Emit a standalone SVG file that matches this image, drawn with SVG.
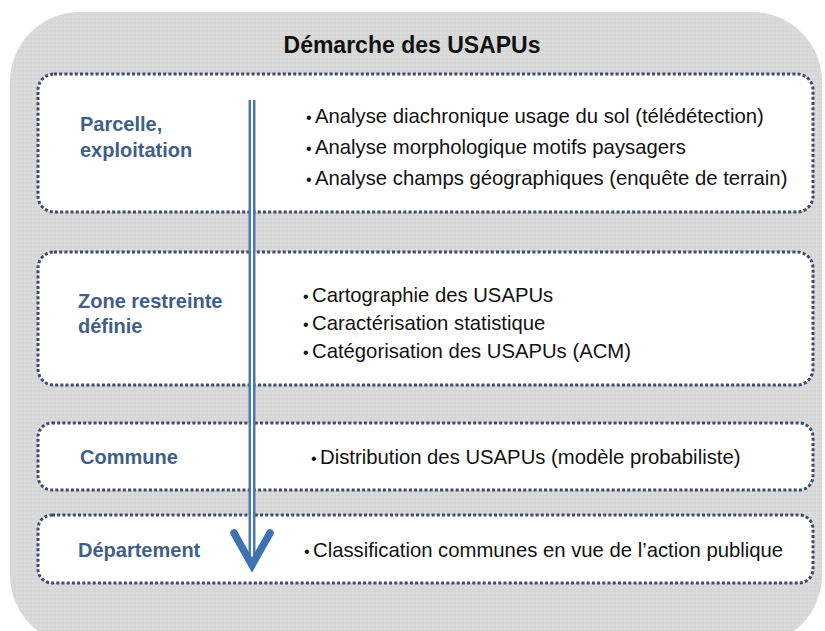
<svg xmlns="http://www.w3.org/2000/svg" width="825" height="631" viewBox="0 0 825 631">
<defs>
<pattern id="dots" width="4" height="4" patternUnits="userSpaceOnUse">
<rect width="4" height="4" fill="#d7d7d7"/>
<circle cx="1" cy="1" r="0.7" fill="#e5e5e5"/>
</pattern>
<style>
.box{fill:#ffffff;stroke:#3d4c6a;stroke-width:3;stroke-dasharray:3 2.2}
.lbl{font-family:"Liberation Sans",Arial,sans-serif;font-weight:bold;font-size:20px;fill:#3f5f8b}
.txt{font-family:"Liberation Sans",Arial,sans-serif;font-size:20.3px;fill:#111111}
.b{font-size:16px}
.title{font-family:"Liberation Sans",Arial,sans-serif;font-weight:bold;font-size:23px;fill:#111111}
</style>
</defs>
<rect width="825" height="631" fill="#ffffff"/>
<rect id="background" x="10" y="12" width="812" height="633" rx="70" ry="70" fill="url(#dots)"/>
<text class="title" x="412" y="53" text-anchor="middle">Démarche des USAPUs</text>
<g id="node-parcelle">
<rect class="box" x="38" y="74" width="775" height="138" rx="16"/>
<text class="lbl" x="80" y="131">Parcelle,</text>
<text class="lbl" x="80" y="157">exploitation</text>
<text class="txt" y="123"><tspan class="b" x="306">•</tspan><tspan x="315">Analyse diachronique usage du sol (télédétection)</tspan></text>
<text class="txt" y="154"><tspan class="b" x="306">•</tspan><tspan x="315">Analyse morphologique motifs paysagers</tspan></text>
<text class="txt" y="185"><tspan class="b" x="306">•</tspan><tspan x="315">Analyse champs géographiques (enquête de terrain)</tspan></text>
</g>
<g id="node-zone">
<rect class="box" x="38" y="252" width="775" height="133" rx="16"/>
<text class="lbl" x="78" y="308">Zone restreinte</text>
<text class="lbl" x="78" y="333">définie</text>
<text class="txt" y="302"><tspan class="b" x="303">•</tspan><tspan x="312">Cartographie des USAPUs</tspan></text>
<text class="txt" y="330"><tspan class="b" x="303">•</tspan><tspan x="312">Caractérisation statistique</tspan></text>
<text class="txt" y="358"><tspan class="b" x="303">•</tspan><tspan x="312">Catégorisation des USAPUs (ACM)</tspan></text>
</g>
<g id="node-commune">
<rect class="box" x="38" y="423" width="775" height="67" rx="14"/>
<text class="lbl" x="80" y="464">Commune</text>
<text class="txt" y="464"><tspan class="b" x="311">•</tspan><tspan x="320">Distribution des USAPUs (modèle probabiliste)</tspan></text>
</g>
<g id="node-departement">
<rect class="box" x="38" y="515" width="775" height="68" rx="14"/>
<text class="lbl" x="78" y="557">Département</text>
<text class="txt" y="557"><tspan class="b" x="304">•</tspan><tspan x="313">Classification communes en vue de l’action publique</tspan></text>
</g>
<g id="connectors">
<line x1="252" y1="100" x2="252" y2="562" stroke="#4a78b4" stroke-width="7"/>
<line x1="252" y1="100" x2="252" y2="560" stroke="#ffffff" stroke-width="2"/>
<polyline points="234,533 252,565 270,533" fill="none" stroke="#3e72b2" stroke-width="7.5" stroke-linecap="round" stroke-linejoin="miter"/>
</g>
</svg>
